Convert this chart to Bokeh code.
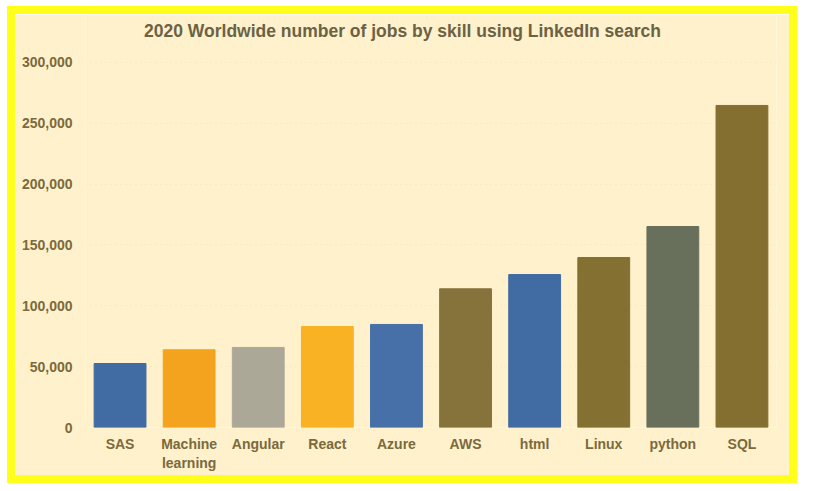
from bokeh.plotting import figure
from bokeh.models import Range1d, NumeralTickFormatter, ColumnDataSource, Label
from bokeh.embed import file_html
from bokeh.resources import INLINE

# ---- data ----
title_text = "2020 Worldwide number of jobs by skill using LinkedIn search"
skills = ["SAS", "Machine\nlearning", "Angular", "React", "Azure",
          "AWS", "html", "Linux", "python", "SQL"]
jobs = [52600, 63900, 65800, 83000, 84700, 114000, 125700, 139700, 165200, 264700]
y_ticks = [0, 50000, 100000, 150000, 200000, 250000, 300000]

# ---- styles ----
bar_colors = ["#416ba3", "#f4a31e", "#aca898", "#f8b224", "#4870a8",
              "#86733c", "#416ba3", "#847030", "#68705c", "#846f30"]
cream = "#fff1cc"
text_col = "#7a6a3c"

src = ColumnDataSource(dict(skill=skills, jobs=jobs, color=bar_colors))

# the frame is extended above 300,000 so that the title sits inside it
y_top = 339450

p = figure(x_range=skills, y_range=Range1d(0, y_top),
           width=774, height=461, output_backend="svg", toolbar_location=None,
           background_fill_color=cream, border_fill_color=cream,
           min_border_left=70, min_border_right=13,
           min_border_top=0, min_border_bottom=48)

p.vbar(x="skill", top="jobs", width=0.75, color="color", source=src)

p.add_layout(Label(x=4.588, y=325500, text=title_text,
                   text_align="center", text_baseline="middle",
                   text_font="Liberation Sans", text_font_size="17.5px",
                   text_font_style="bold", text_color="#6b6245"))

p.outline_line_color = None
p.xgrid.grid_line_color = None
p.ygrid.grid_line_color = "#d8ccaa"
p.ygrid.grid_line_alpha = 0.35
p.ygrid.grid_line_dash = "1 4"

for ax in (p.xaxis, p.yaxis):
    ax.axis_line_color = None
    ax.major_tick_line_color = None
    ax.minor_tick_line_color = None
    ax.major_tick_out = 0
    ax.major_tick_in = 0
    ax.minor_tick_out = 0
    ax.major_label_text_font = "Liberation Sans"
    ax.major_label_text_font_size = "14px"
    ax.major_label_text_font_style = "bold"
    ax.major_label_text_color = text_col

p.yaxis.ticker = y_ticks
p.yaxis.formatter = NumeralTickFormatter(format="0,0")
p.yaxis.major_label_standoff = 13
p.xaxis.major_label_standoff = 8

p.styles = {"outline": "8px solid #ffff1a",
            "margin-left": "15px", "margin-top": "14px"}

open("out.html", "w").write(file_html(p, INLINE))
